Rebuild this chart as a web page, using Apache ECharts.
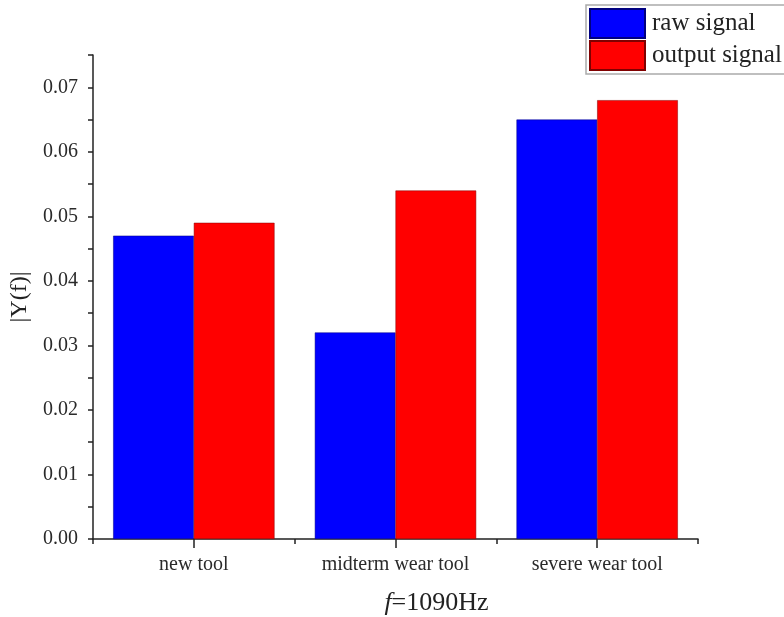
<!DOCTYPE html>
<html><head><meta charset="utf-8">
<script src="https://cdn.jsdelivr.net/npm/echarts@6/dist/echarts.min.js"></script>
<style>html,body{margin:0;padding:0;background:#fff}#c{width:784px;height:617px}</style>
</head><body><div id="c"></div>
<script>
const categories = ['new tool', 'midterm wear tool', 'severe wear tool'];
const rawSignal = [0.047, 0.032, 0.065];
const outputSignal = [0.049, 0.054, 0.068];
const seriesNames = ['raw signal', 'output signal'];

const font = 'Liberation Serif';
const chart = echarts.init(document.getElementById('c'));
chart.setOption({
  animation: false,
  textStyle: {fontFamily: font},
  grid: {left: 93, right: 86, top: 55, bottom: 78, containLabel: false, outerBoundsMode: 'none'},
  legend: {
    orient: 'vertical', left: 586, top: 5,
    itemWidth: 55, itemHeight: 29, itemGap: 1,
    padding: [3, 8, 3, 3],
    borderColor: '#aaa', borderWidth: 1.5,
    textStyle: {fontFamily: font, fontSize: 25, color: '#222', padding: [0, 0, 0, 2]},
    data: seriesNames.map(n => ({name: n, icon: 'rect'}))
  },
  xAxis: [{
    type: 'category', data: categories,
    axisLine: {lineStyle: {color: '#222', width: 1.5}},
    axisTick: {show: true, length: 5, lineStyle: {color: '#222', width: 1.5}},
    axisLabel: {fontFamily: font, fontSize: 20, color: '#2a2a2a', margin: 16},
    name: '{i|f}=1090Hz', nameLocation: 'middle', nameGap: 51,
    nameTextStyle: {fontFamily: font, fontSize: 26, color: '#222', padding: [0, 0, 0, 82],
      rich: {i: {fontFamily: font, fontStyle: 'italic', fontSize: 26, color: '#222'}}}
  }, {
    type: 'category', data: categories, position: 'bottom',
    axisLine: {show: false},
    axisTick: {show: true, alignWithLabel: true, length: 9, lineStyle: {color: '#222', width: 1.5}},
    axisLabel: {show: false}
  }],
  yAxis: {
    type: 'value', min: 0, max: 0.075, interval: 0.005,
    axisLine: {show: true, lineStyle: {color: '#222', width: 1.5}},
    axisTick: {show: true, length: 5, lineStyle: {color: '#222', width: 1.5}},
    splitLine: {show: false},
    axisLabel: {fontFamily: font, fontSize: 20, color: '#2a2a2a', margin: 15,
      formatter: v => { const k = Math.round(v * 1000); return (k % 10 === 0) ? v.toFixed(2) : ''; }},
    name: '|Y(f)|', nameLocation: 'middle', nameGap: 58, nameRotate: 90,
    nameTextStyle: {fontFamily: font, fontSize: 24, color: '#222'}
  },
  series: [{
    name: seriesNames[0], type: 'bar', data: rawSignal, xAxisIndex: 0,
    barGap: '0%', barCategoryGap: '20%',
    itemStyle: {color: '#0000ff', borderColor: '#000080', borderWidth: 0.5}
  }, {
    name: seriesNames[1], type: 'bar', data: outputSignal, xAxisIndex: 0,
    barGap: '0%', barCategoryGap: '20%',
    itemStyle: {color: '#ff0000', borderColor: '#800000', borderWidth: 0.5}
  }]
});
</script></body></html>
